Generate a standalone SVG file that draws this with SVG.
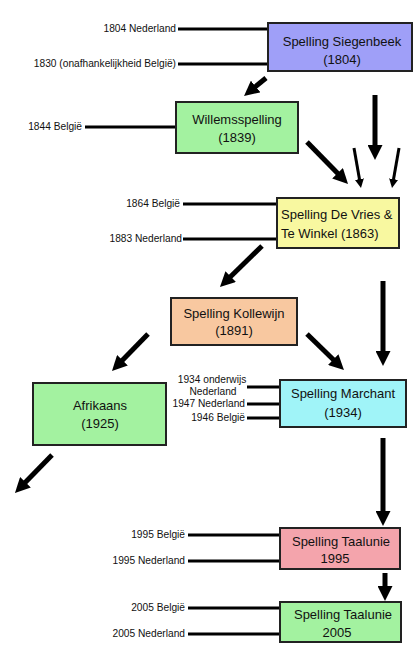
<svg xmlns="http://www.w3.org/2000/svg" width="415" height="664" viewBox="0 0 415 664">
<style>
.box{stroke:#222;stroke-width:2}
.bt{font-family:"Liberation Sans",Arial,sans-serif;font-size:13px;fill:#111}
.lb{font-family:"Liberation Sans",Arial,sans-serif;font-size:10.2px;fill:#111}
.ln{stroke:#000;stroke-width:3}
.ar{stroke:#000;stroke-width:5;fill:none;marker-end:url(#ah)}
.ar2{stroke:#000;stroke-width:3;fill:none;marker-end:url(#ah)}
</style>
<defs>
<marker id="ah" markerUnits="strokeWidth" markerWidth="3" markerHeight="3" refX="0.5" refY="1.5" orient="auto" viewBox="0 0 3 3">
<path d="M0,0 L3,1.5 L0,3 z" fill="#000"/>
</marker>
</defs>
<rect width="415" height="664" fill="#fff"/>
<g id="connectors">
<line class="ln" x1="178" y1="29" x2="268" y2="29"/>
<line class="ln" x1="178" y1="64" x2="268" y2="64"/>
<line class="ln" x1="85" y1="127" x2="176" y2="127"/>
<line class="ln" x1="183" y1="204" x2="277" y2="204"/>
<line class="ln" x1="183" y1="239" x2="277" y2="239"/>
<line class="ln" x1="247" y1="387" x2="280" y2="387"/>
<line class="ln" x1="247" y1="404" x2="280" y2="404"/>
<line class="ln" x1="247" y1="418" x2="280" y2="418"/>
<line class="ln" x1="188" y1="535" x2="280" y2="535"/>
<line class="ln" x1="188" y1="561" x2="280" y2="561"/>
<line class="ln" x1="188" y1="608" x2="280" y2="608"/>
<line class="ln" x1="188" y1="634" x2="280" y2="634"/>
<line class="ar" x1="266" y1="78" x2="253.7" y2="88.1"/>
<line class="ar" x1="375" y1="95" x2="375" y2="147.5"/>
<line class="ar" x1="307" y1="142" x2="339.3" y2="175.1"/>
<line class="ar2" x1="354" y1="148" x2="359.7" y2="180.6"/>
<line class="ar2" x1="399" y1="148" x2="393.3" y2="180.6"/>
<line class="ar" x1="262" y1="246" x2="228.9" y2="278.3"/>
<line class="ar" x1="383" y1="281" x2="383" y2="353.5"/>
<line class="ar" x1="148" y1="334" x2="120.7" y2="362"/>
<line class="ar" x1="307" y1="334" x2="335" y2="361.3"/>
<line class="ar" x1="52" y1="455" x2="23.7" y2="484"/>
<line class="ar" x1="383" y1="438" x2="383" y2="513.5"/>
<line class="ar" x1="385" y1="573" x2="385" y2="588.5"/>
</g>
<g id="labels">
<text class="lb" x="176" y="32" text-anchor="end">1804 Nederland</text>
<text class="lb" x="176" y="67" text-anchor="end">1830 (onafhankelijkheid België)</text>
<text class="lb" x="82" y="130" text-anchor="end">1844 België</text>
<text class="lb" x="180" y="207" text-anchor="end">1864 België</text>
<text class="lb" x="182" y="242" text-anchor="end">1883 Nederland</text>
<text class="lb" x="212" y="383" text-anchor="middle">1934 onderwijs</text>
<text class="lb" x="213" y="395" text-anchor="middle">Nederland</text>
<text class="lb" x="245" y="407" text-anchor="end">1947 Nederland</text>
<text class="lb" x="245" y="421" text-anchor="end">1946 België</text>
<text class="lb" x="185" y="538" text-anchor="end">1995 België</text>
<text class="lb" x="185" y="564" text-anchor="end">1995 Nederland</text>
<text class="lb" x="185" y="611" text-anchor="end">2005 België</text>
<text class="lb" x="185" y="637" text-anchor="end">2005 Nederland</text>
</g>
<g id="siegenbeek">
<rect class="box" x="268" y="23" width="144" height="48" fill="#9f9ff8"/>
<text class="bt" x="342" y="46" text-anchor="middle">Spelling Siegenbeek</text>
<text class="bt" x="342" y="64" text-anchor="middle">(1804)</text>
</g>
<g id="willemsspelling">
<rect class="box" x="176" y="102" width="122" height="51" fill="#a3f2a0"/>
<text class="bt" x="237" y="124" text-anchor="middle">Willemsspelling</text>
<text class="bt" x="237" y="142" text-anchor="middle">(1839)</text>
</g>
<g id="devries">
<rect class="box" x="277" y="198" width="122" height="50" fill="#f8f8a0"/>
<text class="bt" x="281" y="219">Spelling De Vries &amp;</text>
<text class="bt" x="281" y="238">Te Winkel (1863)</text>
</g>
<g id="kollewijn">
<rect class="box" x="171" y="298" width="126" height="47" fill="#f8c8a0"/>
<text class="bt" x="234" y="318" text-anchor="middle">Spelling Kollewijn</text>
<text class="bt" x="234" y="335" text-anchor="middle">(1891)</text>
</g>
<g id="afrikaans">
<rect class="box" x="33" y="383" width="133" height="62" fill="#a3f2a0"/>
<text class="bt" x="100" y="410" text-anchor="middle">Afrikaans</text>
<text class="bt" x="100" y="428" text-anchor="middle">(1925)</text>
</g>
<g id="marchant">
<rect class="box" x="280" y="380" width="126" height="47" fill="#a0f4f8"/>
<text class="bt" x="343" y="398" text-anchor="middle">Spelling Marchant</text>
<text class="bt" x="343" y="417" text-anchor="middle">(1934)</text>
</g>
<g id="taalunie1995">
<rect class="box" x="280" y="528" width="120" height="41" fill="#f4a4ac"/>
<text class="bt" x="341" y="546" text-anchor="middle">Spelling Taalunie</text>
<text class="bt" x="335" y="563" text-anchor="middle">1995</text>
</g>
<g id="taalunie2005">
<rect class="box" x="280" y="602" width="121" height="40" fill="#a3f2a0"/>
<text class="bt" x="343" y="619" text-anchor="middle">Spelling Taalunie</text>
<text class="bt" x="337" y="637" text-anchor="middle">2005</text>
</g>
</svg>
